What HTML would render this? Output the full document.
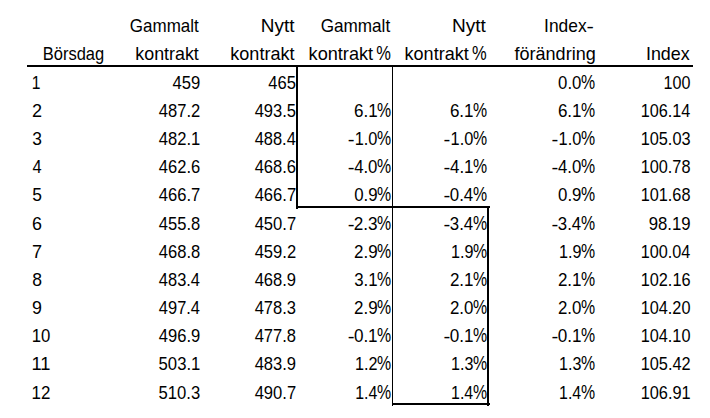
<!DOCTYPE html>
<html><head><meta charset="utf-8"><style>
html,body{margin:0;padding:0;background:#fff;width:710px;height:418px;overflow:hidden}
svg{display:block}
text{font-family:"Liberation Sans",sans-serif;font-size:19.0px;fill:#000}
</style></head><body>
<svg width="710" height="418" viewBox="0 0 710 418">
<rect x="0" y="0" width="710" height="418" fill="#fff"/>
<g fill="#000" shape-rendering="crispEdges">
<rect x="27" y="65" width="666" height="2"/>
<rect x="296" y="65" width="2" height="144"/>
<rect x="392" y="65" width="1" height="341"/>
<rect x="296" y="206" width="194" height="2"/>
<rect x="487" y="206" width="2" height="200"/>
<rect x="392" y="403" width="98" height="2"/>
</g>
<g>
<text x="42.75" y="60" textLength="61.42" lengthAdjust="spacingAndGlyphs">Börsdag</text>
<text x="129.85" y="32" textLength="68.97" lengthAdjust="spacingAndGlyphs">Gammalt</text>
<text x="135.30" y="60" textLength="63.52" lengthAdjust="spacingAndGlyphs">kontrakt</text>
<text x="260.85" y="32" textLength="33.68" lengthAdjust="spacingAndGlyphs">Nytt</text>
<text x="230.29" y="60" textLength="64.24" lengthAdjust="spacingAndGlyphs">kontrakt</text>
<text x="320.64" y="32" textLength="69.58" lengthAdjust="spacingAndGlyphs">Gammalt</text>
<text x="308.58" y="60" textLength="64.55" lengthAdjust="spacingAndGlyphs">kontrakt</text>
<text x="376.31" y="60" textLength="14.67" lengthAdjust="spacingAndGlyphs" style="font-size:20.0px">%</text>
<text x="451.94" y="32" textLength="33.89" lengthAdjust="spacingAndGlyphs">Nytt</text>
<text x="404.59" y="60" textLength="64.14" lengthAdjust="spacingAndGlyphs">kontrakt</text>
<text x="471.91" y="60" textLength="14.67" lengthAdjust="spacingAndGlyphs" style="font-size:20.0px">%</text>
<text x="544.10" y="32" textLength="42.60" lengthAdjust="spacingAndGlyphs">Index</text>
<text x="586.63" y="33" textLength="7.34" lengthAdjust="spacingAndGlyphs">-</text>
<text x="514.45" y="60" textLength="81.31" lengthAdjust="spacingAndGlyphs">förändring</text>
<text x="645.95" y="60" textLength="43.75" lengthAdjust="spacingAndGlyphs">Index</text>
<text x="31.71" y="89" textLength="8.71" lengthAdjust="spacingAndGlyphs">1</text>
<text x="172.57" y="89" textLength="27.72" lengthAdjust="spacingAndGlyphs">459</text>
<text x="268.37" y="89" textLength="27.63" lengthAdjust="spacingAndGlyphs">465</text>
<text x="580.93" y="89" textLength="14.13" lengthAdjust="spacingAndGlyphs" style="font-size:20.0px">%</text>
<text x="558.10" y="89" textLength="23.26" lengthAdjust="spacingAndGlyphs">0.0</text>
<text x="663.52" y="89" textLength="26.91" lengthAdjust="spacingAndGlyphs">100</text>
<text x="32.00" y="117" textLength="10.06" lengthAdjust="spacingAndGlyphs">2</text>
<text x="158.87" y="117" textLength="41.47" lengthAdjust="spacingAndGlyphs">487.2</text>
<text x="254.67" y="117" textLength="41.33" lengthAdjust="spacingAndGlyphs">493.5</text>
<text x="377.03" y="117" textLength="14.13" lengthAdjust="spacingAndGlyphs" style="font-size:20.0px">%</text>
<text x="353.98" y="117" textLength="23.65" lengthAdjust="spacingAndGlyphs">6.1</text>
<text x="472.93" y="117" textLength="14.13" lengthAdjust="spacingAndGlyphs" style="font-size:20.0px">%</text>
<text x="449.88" y="117" textLength="23.65" lengthAdjust="spacingAndGlyphs">6.1</text>
<text x="580.93" y="117" textLength="14.13" lengthAdjust="spacingAndGlyphs" style="font-size:20.0px">%</text>
<text x="557.88" y="117" textLength="23.65" lengthAdjust="spacingAndGlyphs">6.1</text>
<text x="640.67" y="117" textLength="49.61" lengthAdjust="spacingAndGlyphs">106.14</text>
<text x="32.24" y="145" textLength="9.68" lengthAdjust="spacingAndGlyphs">3</text>
<text x="158.87" y="145" textLength="41.45" lengthAdjust="spacingAndGlyphs">482.1</text>
<text x="254.67" y="145" textLength="41.11" lengthAdjust="spacingAndGlyphs">488.4</text>
<text x="377.03" y="145" textLength="14.13" lengthAdjust="spacingAndGlyphs" style="font-size:20.0px">%</text>
<text x="347.65" y="146" textLength="6.80" lengthAdjust="spacingAndGlyphs">-</text>
<text x="354.71" y="145" textLength="22.73" lengthAdjust="spacingAndGlyphs">1.0</text>
<text x="472.93" y="145" textLength="14.13" lengthAdjust="spacingAndGlyphs" style="font-size:20.0px">%</text>
<text x="443.55" y="146" textLength="6.80" lengthAdjust="spacingAndGlyphs">-</text>
<text x="450.61" y="145" textLength="22.73" lengthAdjust="spacingAndGlyphs">1.0</text>
<text x="580.93" y="145" textLength="14.13" lengthAdjust="spacingAndGlyphs" style="font-size:20.0px">%</text>
<text x="551.55" y="146" textLength="6.80" lengthAdjust="spacingAndGlyphs">-</text>
<text x="558.61" y="145" textLength="22.73" lengthAdjust="spacingAndGlyphs">1.0</text>
<text x="640.66" y="145" textLength="49.87" lengthAdjust="spacingAndGlyphs">105.03</text>
<text x="32.52" y="173" textLength="9.10" lengthAdjust="spacingAndGlyphs">4</text>
<text x="158.87" y="173" textLength="41.36" lengthAdjust="spacingAndGlyphs">462.6</text>
<text x="254.67" y="173" textLength="41.36" lengthAdjust="spacingAndGlyphs">468.6</text>
<text x="377.03" y="173" textLength="14.13" lengthAdjust="spacingAndGlyphs" style="font-size:20.0px">%</text>
<text x="347.65" y="174" textLength="6.80" lengthAdjust="spacingAndGlyphs">-</text>
<text x="354.16" y="173" textLength="23.29" lengthAdjust="spacingAndGlyphs">4.0</text>
<text x="472.93" y="173" textLength="14.13" lengthAdjust="spacingAndGlyphs" style="font-size:20.0px">%</text>
<text x="443.55" y="174" textLength="6.80" lengthAdjust="spacingAndGlyphs">-</text>
<text x="450.06" y="173" textLength="23.47" lengthAdjust="spacingAndGlyphs">4.1</text>
<text x="580.93" y="173" textLength="14.13" lengthAdjust="spacingAndGlyphs" style="font-size:20.0px">%</text>
<text x="551.55" y="174" textLength="6.80" lengthAdjust="spacingAndGlyphs">-</text>
<text x="558.06" y="173" textLength="23.29" lengthAdjust="spacingAndGlyphs">4.0</text>
<text x="640.66" y="173" textLength="49.85" lengthAdjust="spacingAndGlyphs">100.78</text>
<text x="32.20" y="201" textLength="9.68" lengthAdjust="spacingAndGlyphs">5</text>
<text x="158.87" y="201" textLength="41.47" lengthAdjust="spacingAndGlyphs">466.7</text>
<text x="254.67" y="201" textLength="41.47" lengthAdjust="spacingAndGlyphs">466.7</text>
<text x="377.03" y="201" textLength="14.13" lengthAdjust="spacingAndGlyphs" style="font-size:20.0px">%</text>
<text x="354.19" y="201" textLength="23.40" lengthAdjust="spacingAndGlyphs">0.9</text>
<text x="472.93" y="201" textLength="14.13" lengthAdjust="spacingAndGlyphs" style="font-size:20.0px">%</text>
<text x="443.55" y="202" textLength="6.80" lengthAdjust="spacingAndGlyphs">-</text>
<text x="449.79" y="201" textLength="23.40" lengthAdjust="spacingAndGlyphs">0.4</text>
<text x="580.93" y="201" textLength="14.13" lengthAdjust="spacingAndGlyphs" style="font-size:20.0px">%</text>
<text x="558.09" y="201" textLength="23.40" lengthAdjust="spacingAndGlyphs">0.9</text>
<text x="640.66" y="201" textLength="49.85" lengthAdjust="spacingAndGlyphs">101.68</text>
<text x="31.99" y="230" textLength="9.95" lengthAdjust="spacingAndGlyphs">6</text>
<text x="158.87" y="230" textLength="41.35" lengthAdjust="spacingAndGlyphs">455.8</text>
<text x="254.67" y="230" textLength="41.47" lengthAdjust="spacingAndGlyphs">450.7</text>
<text x="377.03" y="230" textLength="14.13" lengthAdjust="spacingAndGlyphs" style="font-size:20.0px">%</text>
<text x="347.65" y="231" textLength="6.80" lengthAdjust="spacingAndGlyphs">-</text>
<text x="353.69" y="230" textLength="23.87" lengthAdjust="spacingAndGlyphs">2.3</text>
<text x="472.93" y="230" textLength="14.13" lengthAdjust="spacingAndGlyphs" style="font-size:20.0px">%</text>
<text x="443.55" y="231" textLength="6.80" lengthAdjust="spacingAndGlyphs">-</text>
<text x="449.81" y="230" textLength="23.38" lengthAdjust="spacingAndGlyphs">3.4</text>
<text x="580.93" y="230" textLength="14.13" lengthAdjust="spacingAndGlyphs" style="font-size:20.0px">%</text>
<text x="551.55" y="231" textLength="6.80" lengthAdjust="spacingAndGlyphs">-</text>
<text x="557.81" y="230" textLength="23.38" lengthAdjust="spacingAndGlyphs">3.4</text>
<text x="648.76" y="230" textLength="41.83" lengthAdjust="spacingAndGlyphs">98.19</text>
<text x="31.98" y="258" textLength="10.08" lengthAdjust="spacingAndGlyphs">7</text>
<text x="158.87" y="258" textLength="41.35" lengthAdjust="spacingAndGlyphs">468.8</text>
<text x="254.67" y="258" textLength="41.47" lengthAdjust="spacingAndGlyphs">459.2</text>
<text x="377.03" y="258" textLength="14.13" lengthAdjust="spacingAndGlyphs" style="font-size:20.0px">%</text>
<text x="354.00" y="258" textLength="23.60" lengthAdjust="spacingAndGlyphs">2.9</text>
<text x="472.93" y="258" textLength="14.13" lengthAdjust="spacingAndGlyphs" style="font-size:20.0px">%</text>
<text x="451.02" y="258" textLength="22.44" lengthAdjust="spacingAndGlyphs">1.9</text>
<text x="580.93" y="258" textLength="14.13" lengthAdjust="spacingAndGlyphs" style="font-size:20.0px">%</text>
<text x="559.02" y="258" textLength="22.44" lengthAdjust="spacingAndGlyphs">1.9</text>
<text x="640.67" y="258" textLength="49.61" lengthAdjust="spacingAndGlyphs">100.04</text>
<text x="32.15" y="286" textLength="9.76" lengthAdjust="spacingAndGlyphs">8</text>
<text x="158.87" y="286" textLength="41.11" lengthAdjust="spacingAndGlyphs">483.4</text>
<text x="254.67" y="286" textLength="41.42" lengthAdjust="spacingAndGlyphs">468.9</text>
<text x="377.03" y="286" textLength="14.13" lengthAdjust="spacingAndGlyphs" style="font-size:20.0px">%</text>
<text x="354.21" y="286" textLength="23.42" lengthAdjust="spacingAndGlyphs">3.1</text>
<text x="472.93" y="286" textLength="14.13" lengthAdjust="spacingAndGlyphs" style="font-size:20.0px">%</text>
<text x="449.90" y="286" textLength="23.64" lengthAdjust="spacingAndGlyphs">2.1</text>
<text x="580.93" y="286" textLength="14.13" lengthAdjust="spacingAndGlyphs" style="font-size:20.0px">%</text>
<text x="557.90" y="286" textLength="23.64" lengthAdjust="spacingAndGlyphs">2.1</text>
<text x="640.66" y="286" textLength="49.87" lengthAdjust="spacingAndGlyphs">102.16</text>
<text x="32.06" y="314" textLength="9.93" lengthAdjust="spacingAndGlyphs">9</text>
<text x="158.87" y="314" textLength="41.11" lengthAdjust="spacingAndGlyphs">497.4</text>
<text x="254.67" y="314" textLength="41.36" lengthAdjust="spacingAndGlyphs">478.3</text>
<text x="377.03" y="314" textLength="14.13" lengthAdjust="spacingAndGlyphs" style="font-size:20.0px">%</text>
<text x="354.00" y="314" textLength="23.60" lengthAdjust="spacingAndGlyphs">2.9</text>
<text x="472.93" y="314" textLength="14.13" lengthAdjust="spacingAndGlyphs" style="font-size:20.0px">%</text>
<text x="449.91" y="314" textLength="23.45" lengthAdjust="spacingAndGlyphs">2.0</text>
<text x="580.93" y="314" textLength="14.13" lengthAdjust="spacingAndGlyphs" style="font-size:20.0px">%</text>
<text x="557.91" y="314" textLength="23.45" lengthAdjust="spacingAndGlyphs">2.0</text>
<text x="640.66" y="314" textLength="49.78" lengthAdjust="spacingAndGlyphs">104.20</text>
<text x="31.63" y="342" textLength="18.63" lengthAdjust="spacingAndGlyphs">10</text>
<text x="158.87" y="342" textLength="41.42" lengthAdjust="spacingAndGlyphs">496.9</text>
<text x="254.67" y="342" textLength="41.35" lengthAdjust="spacingAndGlyphs">477.8</text>
<text x="377.03" y="342" textLength="14.13" lengthAdjust="spacingAndGlyphs" style="font-size:20.0px">%</text>
<text x="347.65" y="343" textLength="6.80" lengthAdjust="spacingAndGlyphs">-</text>
<text x="353.88" y="342" textLength="23.76" lengthAdjust="spacingAndGlyphs">0.1</text>
<text x="472.93" y="342" textLength="14.13" lengthAdjust="spacingAndGlyphs" style="font-size:20.0px">%</text>
<text x="443.55" y="343" textLength="6.80" lengthAdjust="spacingAndGlyphs">-</text>
<text x="449.78" y="342" textLength="23.76" lengthAdjust="spacingAndGlyphs">0.1</text>
<text x="580.93" y="342" textLength="14.13" lengthAdjust="spacingAndGlyphs" style="font-size:20.0px">%</text>
<text x="551.55" y="343" textLength="6.80" lengthAdjust="spacingAndGlyphs">-</text>
<text x="557.78" y="342" textLength="23.76" lengthAdjust="spacingAndGlyphs">0.1</text>
<text x="640.66" y="342" textLength="49.78" lengthAdjust="spacingAndGlyphs">104.10</text>
<text x="31.51" y="370" textLength="18.99" lengthAdjust="spacingAndGlyphs">11</text>
<text x="158.58" y="370" textLength="41.74" lengthAdjust="spacingAndGlyphs">503.1</text>
<text x="254.67" y="370" textLength="41.42" lengthAdjust="spacingAndGlyphs">483.9</text>
<text x="377.03" y="370" textLength="14.13" lengthAdjust="spacingAndGlyphs" style="font-size:20.0px">%</text>
<text x="355.12" y="370" textLength="22.49" lengthAdjust="spacingAndGlyphs">1.2</text>
<text x="472.93" y="370" textLength="14.13" lengthAdjust="spacingAndGlyphs" style="font-size:20.0px">%</text>
<text x="451.03" y="370" textLength="22.38" lengthAdjust="spacingAndGlyphs">1.3</text>
<text x="580.93" y="370" textLength="14.13" lengthAdjust="spacingAndGlyphs" style="font-size:20.0px">%</text>
<text x="559.03" y="370" textLength="22.38" lengthAdjust="spacingAndGlyphs">1.3</text>
<text x="640.66" y="370" textLength="49.97" lengthAdjust="spacingAndGlyphs">105.42</text>
<text x="31.61" y="399" textLength="18.84" lengthAdjust="spacingAndGlyphs">12</text>
<text x="158.58" y="399" textLength="41.66" lengthAdjust="spacingAndGlyphs">510.3</text>
<text x="254.67" y="399" textLength="41.47" lengthAdjust="spacingAndGlyphs">490.7</text>
<text x="377.03" y="399" textLength="14.13" lengthAdjust="spacingAndGlyphs" style="font-size:20.0px">%</text>
<text x="355.14" y="399" textLength="22.12" lengthAdjust="spacingAndGlyphs">1.4</text>
<text x="472.93" y="399" textLength="14.13" lengthAdjust="spacingAndGlyphs" style="font-size:20.0px">%</text>
<text x="451.04" y="399" textLength="22.12" lengthAdjust="spacingAndGlyphs">1.4</text>
<text x="580.93" y="399" textLength="14.13" lengthAdjust="spacingAndGlyphs" style="font-size:20.0px">%</text>
<text x="559.04" y="399" textLength="22.12" lengthAdjust="spacingAndGlyphs">1.4</text>
<text x="640.66" y="399" textLength="49.95" lengthAdjust="spacingAndGlyphs">106.91</text>
</g>
</svg>
</body></html>
